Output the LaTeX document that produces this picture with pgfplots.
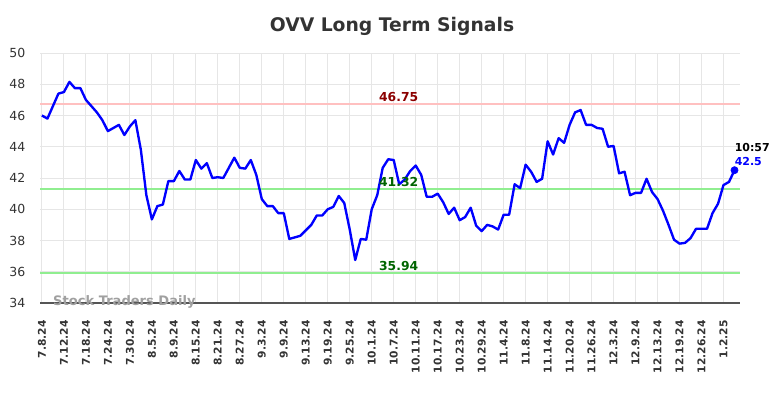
\documentclass[border=0pt]{standalone}
\usepackage{fontspec}
\setmainfont{DejaVu Sans}
\usepackage{pgfplots}
\pgfplotsset{compat=1.18}
\definecolor{gridc}{HTML}{E6E6E6}
\definecolor{titlec}{HTML}{333333}
\definecolor{tickc}{HTML}{333333}
\definecolor{axisc}{HTML}{555555}
\definecolor{redline}{HTML}{FFC0C0}
\definecolor{greenline}{HTML}{90EE90}
\definecolor{redlab}{HTML}{8B0000}
\definecolor{greenlab}{HTML}{006400}
\definecolor{wmark}{HTML}{A0A0A0}
\begin{document}
\begin{tikzpicture}
\path[use as bounding box] (0,0) rectangle (564.48pt,286.56pt);
\node[font=\fontsize{13.5}{16}\selectfont\bfseries, text=titlec] at (282.24pt,267.84pt) {OVV Long Term Signals};
\begin{axis}[
  at={(28.8pt,68.4pt)}, anchor=south west,
  scale only axis, width=504pt, height=180pt,
  xmin=-0.35, xmax=127, ymin=34, ymax=50,
  ytick={34,36,...,50},
  xtick={0,4,...,124},
  xticklabels={7.8.24,7.12.24,7.18.24,7.24.24,7.30.24,8.5.24,8.9.24,8.15.24,8.21.24,8.27.24,9.3.24,9.9.24,9.13.24,9.19.24,9.25.24,10.1.24,10.7.24,10.11.24,10.17.24,10.23.24,10.29.24,11.4.24,11.8.24,11.14.24,11.20.24,11.26.24,12.3.24,12.9.24,12.13.24,12.19.24,12.26.24,1.2.25},
  grid=major, grid style={gridc, line width=0.7pt},
  axis lines*=left,
  x axis line style={axisc, line width=0.8pt},
  y axis line style={draw=none},
  major tick length=0pt, tick style={draw=none},
  xticklabel style={rotate=90, anchor=east, font=\fontsize{7.7}{9}\selectfont\bfseries, text=tickc, xshift=-9pt},
  yticklabel style={font=\fontsize{9}{10}\selectfont, text=tickc, xshift=-7pt},
  /pgf/number format/assume math mode=true,
  clip=false,
]
\addplot[redline, line width=1.3pt] coordinates {(-0.35,46.75) (127,46.75)};
\addplot[greenline, line width=1.3pt] coordinates {(-0.35,41.32) (127,41.32)};
\addplot[greenline, line width=1.3pt] coordinates {(-0.35,35.94) (127,35.94)};
\addplot[blue, line width=1.7pt, line join=round] table {
x y
0 46.0
1 45.8
2 46.6
3 47.4
4 47.5
5 48.15
6 47.75
7 47.75
8 47.0
9 46.6
10 46.2
11 45.7
12 45.0
13 45.2
14 45.4
15 44.75
16 45.3
17 45.7
18 43.8
19 40.9
20 39.35
21 40.2
22 40.3
23 41.8
24 41.8
25 42.45
26 41.9
27 41.9
28 43.15
29 42.6
30 42.95
31 42.0
32 42.05
33 42.0
34 42.65
35 43.3
36 42.65
37 42.6
38 43.15
39 42.2
40 40.65
41 40.2
42 40.2
43 39.75
44 39.75
45 38.1
46 38.2
47 38.3
48 38.65
49 39.0
50 39.6
51 39.6
52 40.0
53 40.15
54 40.85
55 40.4
56 38.7
57 36.75
58 38.1
59 38.05
60 40.0
61 40.9
62 42.65
63 43.2
64 43.15
65 41.6
66 41.9
67 42.45
68 42.8
69 42.2
70 40.8
71 40.8
72 41.0
73 40.45
74 39.7
75 40.1
76 39.3
77 39.5
78 40.1
79 38.95
80 38.6
81 39.0
82 38.9
83 38.7
84 39.65
85 39.65
86 41.6
87 41.35
88 42.85
89 42.4
90 41.75
91 41.95
92 44.35
93 43.5
94 44.55
95 44.25
96 45.4
97 46.2
98 46.35
99 45.4
100 45.4
101 45.2
102 45.15
103 44.0
104 44.05
105 42.3
106 42.4
107 40.9
108 41.05
109 41.05
110 41.95
111 41.1
112 40.65
113 39.9
114 39.0
115 38.05
116 37.8
117 37.85
118 38.15
119 38.75
120 38.75
121 38.75
122 39.75
123 40.35
124 41.55
125 41.75
126 42.5
};
\addplot[only marks, mark=*, blue, mark size=2.6pt] coordinates {(126,42.5)};
\node[anchor=south, inner sep=1pt, text=redlab, font=\fontsize{8.9}{10}\selectfont\bfseries] at (axis cs:64.9,46.75) {46.75};
\node[anchor=south, inner sep=1pt, text=greenlab, font=\fontsize{8.9}{10}\selectfont\bfseries] at (axis cs:64.9,41.32) {41.32};
\node[anchor=south, inner sep=1pt, text=greenlab, font=\fontsize{8.9}{10}\selectfont\bfseries] at (axis cs:64.9,35.94) {35.94};
\node[anchor=south west, inner sep=0pt, text=blue, font=\fontsize{7.9}{9}\selectfont\bfseries] at (axis cs:126,42.5) [yshift=3.3pt] {42.5};
\node[anchor=south west, inner sep=0pt, text=black, font=\fontsize{7.9}{9}\selectfont\bfseries] at (axis cs:126,42.5) [yshift=13.4pt] {10:57};
\node[anchor=west, inner sep=0pt, text=wmark, font=\fontsize{9.4}{11}\selectfont\bfseries] at (axis cs:2,34.06) {Stock Traders Daily};
\end{axis}
\end{tikzpicture}
\end{document}
